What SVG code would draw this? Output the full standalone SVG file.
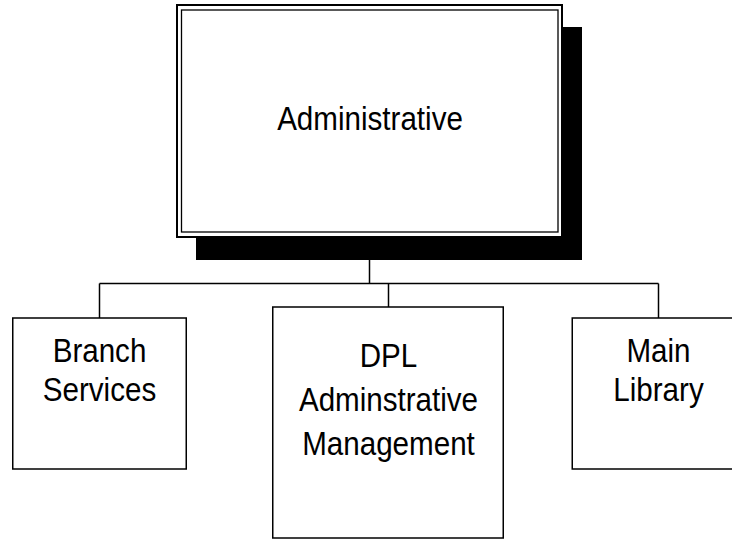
<svg xmlns="http://www.w3.org/2000/svg" width="732" height="540" viewBox="0 0 732 540">
<style>
.box{fill:#fff;stroke:#000;stroke-width:1.5}
.lbl{font-family:"Liberation Sans",Arial,sans-serif;font-size:34px;fill:#000;text-anchor:middle}
.conn{fill:none;stroke:#000;stroke-width:1.5}
</style>
<rect width="732" height="540" fill="#fff"/>
<g id="connectors">
<line class="conn" x1="369.5" y1="260" x2="369.5" y2="283.5"/>
<line class="conn" x1="99.5" y1="283.5" x2="658.5" y2="283.5"/>
<line class="conn" x1="99.5" y1="283.5" x2="99.5" y2="318"/>
<line class="conn" x1="388.5" y1="283.5" x2="388.5" y2="307"/>
<line class="conn" x1="658.5" y1="283.5" x2="658.5" y2="318"/>
</g>
<g id="administrative">
<rect x="196" y="27" width="386" height="233" fill="#000"/>
<rect x="177" y="5" width="385" height="232" fill="#fff" stroke="#000" stroke-width="2"/>
<rect x="181.5" y="10" width="376.5" height="222" fill="none" stroke="#000" stroke-width="1.3"/>
<text class="lbl" transform="translate(370 130) scale(0.87 1)">Administrative</text>
</g>
<g id="branch-services">
<rect class="box" x="12.75" y="318" width="173.5" height="151"/>
<text class="lbl" transform="translate(99.5 362) scale(0.87 1)">Branch</text>
<text class="lbl" transform="translate(99.5 401) scale(0.87 1)">Services</text>
</g>
<g id="dpl-admin">
<rect class="box" x="272.75" y="307" width="230.5" height="231"/>
<text class="lbl" transform="translate(388.5 367) scale(0.87 1)">DPL</text>
<text class="lbl" transform="translate(388.5 411) scale(0.87 1)">Adminstrative</text>
<text class="lbl" transform="translate(388.5 455) scale(0.87 1)">Management</text>
</g>
<g id="main-library">
<rect class="box" x="572.25" y="318" width="173.5" height="151"/>
<text class="lbl" transform="translate(658.5 362) scale(0.87 1)">Main</text>
<text class="lbl" transform="translate(658.5 401) scale(0.87 1)">Library</text>
</g>
</svg>
